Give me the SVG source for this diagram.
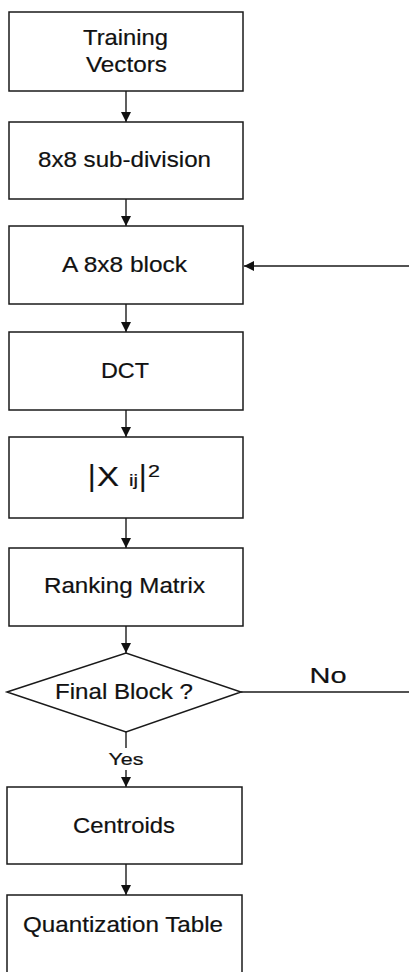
<svg xmlns="http://www.w3.org/2000/svg" width="409" height="972" viewBox="0 0 409 972">
  <style>
    .box { fill: #ffffff; stroke: #1a1a1a; stroke-width: 1.5; }
    .line { fill: none; stroke: #1a1a1a; stroke-width: 1.4; }
    .lbl { font-family: "Liberation Sans", Arial, sans-serif; font-size: 21.5px; fill: #111111; stroke: #111111; stroke-width: 0.2; text-anchor: middle; }
    .small { font-family: "Liberation Sans", Arial, sans-serif; font-size: 16px; fill: #111111; stroke: #111111; stroke-width: 0.2; text-anchor: middle; }
    .math { font-family: "Liberation Sans", Arial, sans-serif; fill: #111111; stroke: #111111; stroke-width: 0.2; }
  </style>
  <defs>
    <marker id="arrow" viewBox="0 0 10 10" refX="10" refY="5" markerWidth="10" markerHeight="10" markerUnits="userSpaceOnUse" orient="auto">
      <path d="M0,0 L10,5 L0,10 Z" fill="#111111"/>
    </marker>
  </defs>
  <rect width="409" height="972" fill="#ffffff"/>

  <!-- connectors -->
  <g id="connectors">
    <line class="line" x1="126" y1="91" x2="126" y2="122" marker-end="url(#arrow)"/>
    <line class="line" x1="126" y1="199" x2="126" y2="226" marker-end="url(#arrow)"/>
    <line class="line" x1="126" y1="304" x2="126" y2="332" marker-end="url(#arrow)"/>
    <line class="line" x1="126" y1="410" x2="126" y2="437" marker-end="url(#arrow)"/>
    <line class="line" x1="126" y1="518" x2="126" y2="548" marker-end="url(#arrow)"/>
    <line class="line" x1="126" y1="626" x2="126" y2="653" marker-end="url(#arrow)"/>
    <!-- Yes branch -->
    <line class="line" x1="126" y1="732" x2="126" y2="748"/>
    <line class="line" x1="126" y1="770" x2="126" y2="787" marker-end="url(#arrow)"/>
    <text class="small" x="126" y="765" textLength="35" lengthAdjust="spacingAndGlyphs">Yes</text>
    <line class="line" x1="126" y1="864" x2="126" y2="895" marker-end="url(#arrow)"/>
    <!-- No branch loops back to the block input -->
    <line class="line" x1="241" y1="692" x2="409" y2="692"/>
    <text class="lbl" x="328" y="683" textLength="37" lengthAdjust="spacingAndGlyphs">No</text>
    <line class="line" x1="409" y1="266" x2="244" y2="266" marker-end="url(#arrow)"/>
  </g>

  <g id="training-vectors">
    <rect class="box" x="9" y="12" width="234" height="79"/>
    <text class="lbl" x="125.5" y="45" textLength="85" lengthAdjust="spacingAndGlyphs">Training</text>
    <text class="lbl" x="126.5" y="72" textLength="81" lengthAdjust="spacingAndGlyphs">Vectors</text>
  </g>

  <g id="subdivision">
    <rect class="box" x="9" y="122" width="234" height="77"/>
    <text class="lbl" x="124.5" y="167" textLength="173" lengthAdjust="spacingAndGlyphs">8x8 sub-division</text>
  </g>

  <g id="block">
    <rect class="box" x="9" y="226" width="234" height="78"/>
    <text class="lbl" x="124.5" y="272" textLength="125" lengthAdjust="spacingAndGlyphs">A 8x8 block</text>
  </g>

  <g id="dct">
    <rect class="box" x="9" y="332" width="234" height="78"/>
    <text class="lbl" x="125" y="378" textLength="48" lengthAdjust="spacingAndGlyphs">DCT</text>
  </g>

  <g id="energy">
    <rect class="box" x="9" y="437" width="234" height="81"/>
    <text class="math">
      <tspan x="88" y="486" font-size="29">|</tspan>
      <tspan x="97" y="486" font-size="28" textLength="22" lengthAdjust="spacingAndGlyphs">X</tspan>
      <tspan x="129" y="486" font-size="16" textLength="9" lengthAdjust="spacingAndGlyphs">ij</tspan>
      <tspan x="139" y="486" font-size="29">|</tspan>
      <tspan x="148" y="477" font-size="17" textLength="12" lengthAdjust="spacingAndGlyphs">2</tspan>
    </text>
  </g>

  <g id="ranking-matrix">
    <rect class="box" x="9" y="548" width="234" height="78"/>
    <text class="lbl" x="124.5" y="593" textLength="161" lengthAdjust="spacingAndGlyphs">Ranking Matrix</text>
  </g>

  <g id="final-block">
    <path class="box" d="M7,692 L126,653 L241,692 L126,732 Z"/>
    <text class="lbl" x="124" y="699" textLength="138" lengthAdjust="spacingAndGlyphs">Final Block ?</text>
  </g>

  <g id="centroids">
    <rect class="box" x="7" y="787" width="235" height="77"/>
    <text class="lbl" x="124" y="833" textLength="102" lengthAdjust="spacingAndGlyphs">Centroids</text>
  </g>

  <g id="quantization-table">
    <rect class="box" x="7" y="895" width="235" height="90"/>
    <text class="lbl" x="123" y="932" textLength="200" lengthAdjust="spacingAndGlyphs">Quantization Table</text>
  </g>
</svg>
